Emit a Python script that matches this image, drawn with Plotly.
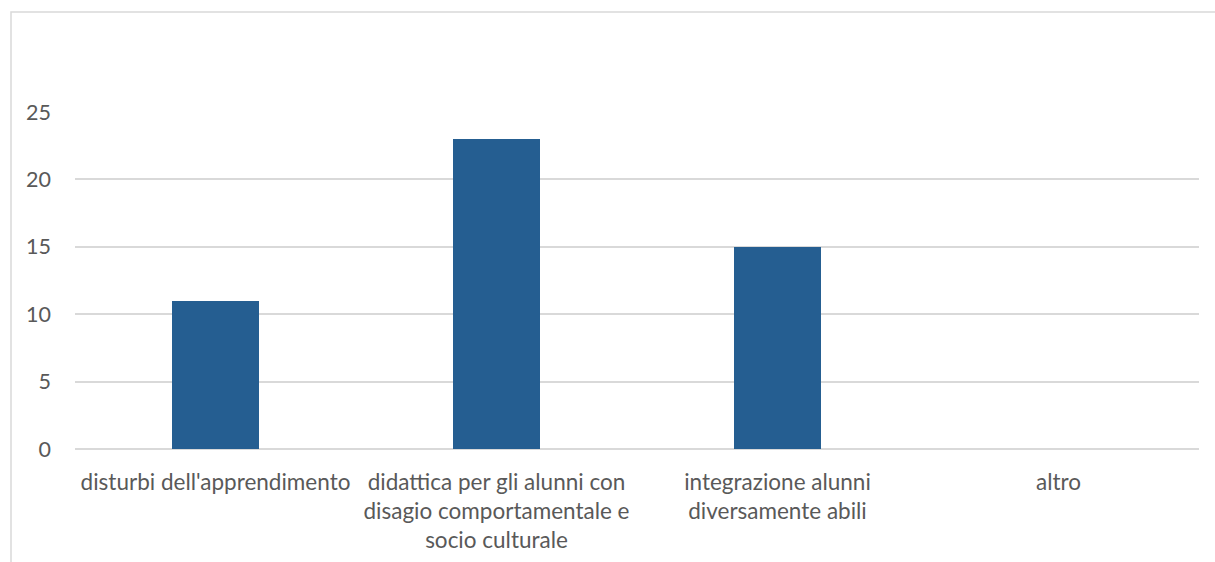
import plotly.graph_objects as go

categories = [
    "disturbi dell'apprendimento",
    "didattica per gli alunni con<br>disagio comportamentale e<br>socio culturale",
    "integrazione alunni<br>diversamente abili",
    "altro",
]
values = [11, 23, 15, 0]
y_ticks = [0, 5, 10, 15, 20, 25]

W, H = 1215, 562
L, R, T, B = 75, 16, 112, 113
pw, ph = W - L - R, H - T - B

fig = go.Figure(go.Bar(
    x=categories, y=values,
    marker=dict(color="#255E91", line=dict(width=0)),
    width=0.313,
))

def px_to_paper_x(px):
    return (px - L) / pw

def px_to_paper_y(py):
    return (H - B - py) / ph

fig.add_shape(type="rect", xref="paper", yref="paper",
              x0=px_to_paper_x(11), x1=px_to_paper_x(1230),
              y0=px_to_paper_y(580), y1=px_to_paper_y(12),
              line=dict(color="#d9d9d9", width=1.5), fillcolor="rgba(0,0,0,0)", layer="below")

fig.update_layout(
    width=W, height=H,
    margin=dict(l=L, r=R, t=T, b=B, autoexpand=False),
    paper_bgcolor="white", plot_bgcolor="white",
    font=dict(family="Lato", size=22.5, color="#595959"),
    showlegend=False,
    bargap=0,
    xaxis=dict(showgrid=False, showline=False, ticks="", tickangle=0,
               ticklabelstandoff=17, tickfont=dict(size=22.5)),
    yaxis=dict(range=[0, 25], tickvals=y_ticks, showgrid=True, gridcolor="#d9d9d9",
               gridwidth=1.5, zeroline=True, zerolinecolor="#d9d9d9", zerolinewidth=1.5,
               showline=False, ticks="", ticklabelstandoff=23, tickfont=dict(size=21.5)),
)

fig.write_html("out.html")
